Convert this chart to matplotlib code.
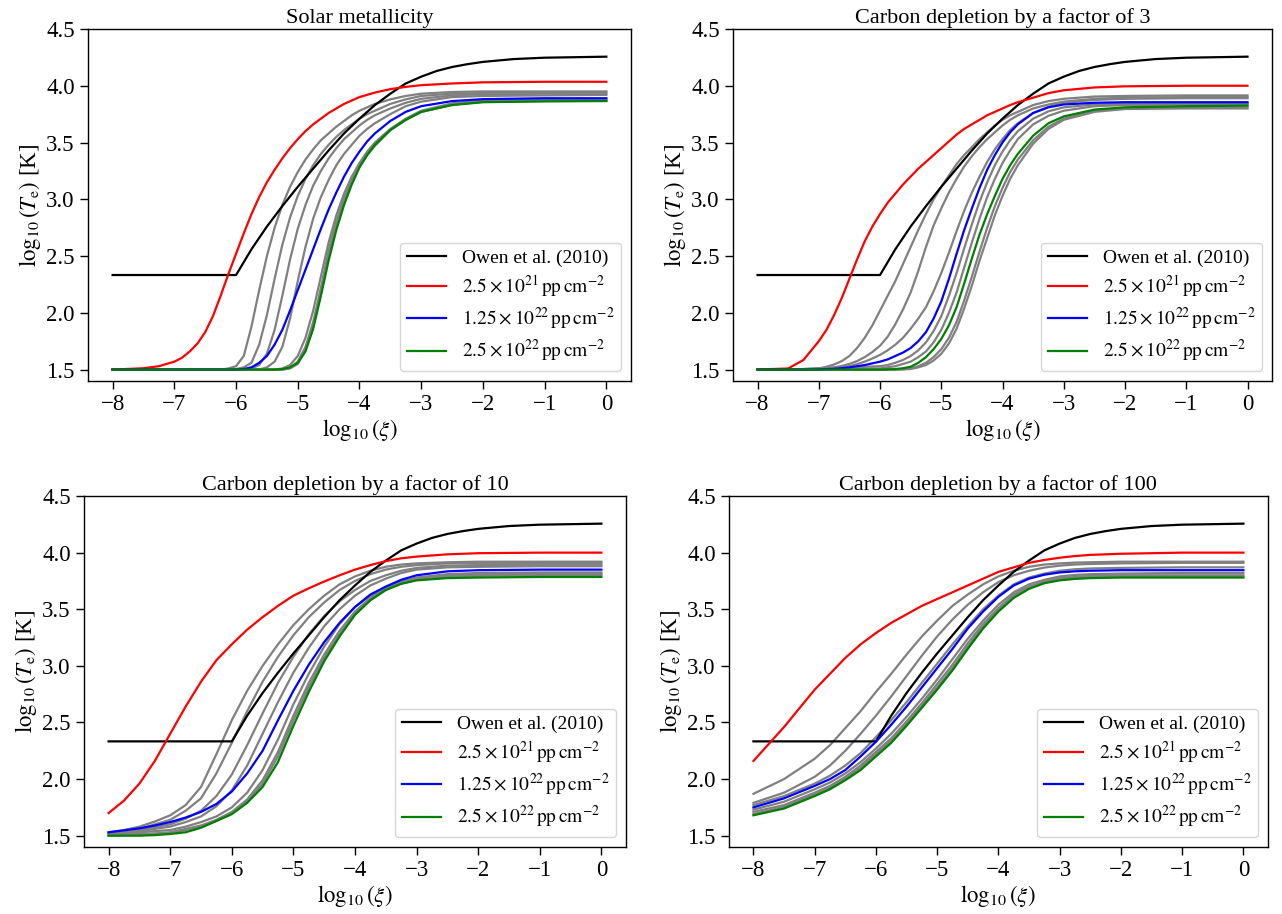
import numpy as np
import matplotlib
matplotlib.use('Agg')
import matplotlib.pyplot as plt

plt.rcParams['font.family'] = ['Liberation Serif', 'DejaVu Serif']
plt.rcParams['mathtext.fontset'] = 'stix'

# log10(xi) sampling used when reading the curves off the figure
xi_owen = [-8, -6, -5.75, -5.5, -5.25, -5, -4.75, -4.5, -4.25, -4, -3.75, -3.5, -3.25,
           -3, -2.75, -2.5, -2.25, -2, -1.5, -1, 0]
xi_fine = [-8, -7.5, -7.25, -7, -6.875, -6.75, -6.625, -6.5, -6.375, -6.25, -6.125, -6,
           -5.875, -5.75, -5.625, -5.5, -5.375, -5.25, -5.125, -5, -4.875, -4.75, -4.625,
           -4.5, -4.375, -4.25, -4.125, -4, -3.875, -3.75, -3.5, -3.25, -3, -2.5, -2, -1, 0]
xi_mid = [-8, -7.75, -7.5, -7.25, -7, -6.75, -6.5, -6.25, -6, -5.75, -5.5, -5.25, -5,
          -4.75, -4.5, -4.25, -4, -3.75, -3.5, -3.25, -3, -2.5, -2, -1, 0]
xi_coarse = [-8, -7.5, -7, -6.75, -6.5, -6.25, -6, -5.75, -5.5, -5.25, -5, -4.75, -4.5,
             -4.25, -4, -3.75, -3.5, -3.25, -3, -2.75, -2.5, -2, -1, 0]

# Owen et al. (2010) relation, identical in every panel
owen = [2.333, 2.333, 2.56, 2.76, 2.94, 3.11, 3.27, 3.43, 3.58, 3.71, 3.83, 3.93, 4.02,
        4.08, 4.13, 4.165, 4.19, 4.21, 4.235, 4.247, 4.256]

# --- Solar metallicity (on xi_fine)
solar_red = [1.50, 1.512, 1.53, 1.57, 1.605, 1.66, 1.73, 1.83, 1.97, 2.15, 2.34, 2.52,
             2.70, 2.87, 3.02, 3.15, 3.26, 3.36, 3.45, 3.53, 3.60, 3.66, 3.71, 3.76, 3.80,
             3.84, 3.87, 3.90, 3.92, 3.94, 3.97, 3.99, 4.005, 4.02, 4.03, 4.035, 4.035]
solar_blue = [1.50] * 12 + [1.505, 1.52, 1.56, 1.62, 1.72, 1.85, 2.02, 2.20, 2.38, 2.56,
                            2.74, 2.91, 3.06, 3.20, 3.32, 3.42, 3.51, 3.58, 3.69, 3.77,
                            3.82, 3.865, 3.882, 3.89, 3.89]
solar_green = [1.50] * 17 + [1.505, 1.52, 1.56, 1.66, 1.86, 2.15, 2.46, 2.73, 2.95, 3.13,
                             3.28, 3.39, 3.48, 3.61, 3.70, 3.77, 3.83, 3.855, 3.862, 3.865]
solar_grey = [
    [1.50] * 10 + [1.51, 1.53, 1.62, 1.88, 2.20, 2.50, 2.75, 2.95, 3.11, 3.24, 3.35, 3.44,
                   3.52, 3.58, 3.64, 3.69, 3.74, 3.78, 3.81, 3.84, 3.88, 3.91, 3.93, 3.945,
                   3.95, 3.95, 3.95],
    [1.50] * 11 + [1.505, 1.52, 1.56, 1.72, 1.98, 2.30, 2.60, 2.84, 3.03, 3.18, 3.30, 3.40,
                   3.48, 3.55, 3.61, 3.66, 3.71, 3.75, 3.78, 3.84, 3.88, 3.91, 3.93, 3.935,
                   3.94, 3.94],
    [1.50] * 13 + [1.51, 1.54, 1.64, 1.85, 2.15, 2.47, 2.74, 2.95, 3.12, 3.25, 3.36, 3.45,
                   3.53, 3.59, 3.65, 3.70, 3.74, 3.80, 3.85, 3.885, 3.915, 3.925, 3.93, 3.93],
    [1.50] * 15 + [1.52, 1.57, 1.70, 1.95, 2.28, 2.58, 2.83, 3.02, 3.17, 3.30, 3.40, 3.48,
                   3.56, 3.62, 3.67, 3.75, 3.82, 3.86, 3.90, 3.91, 3.915, 3.92],
    [1.50] * 17 + [1.51, 1.54, 1.62, 1.78, 2.02, 2.32, 2.62, 2.86, 3.05, 3.20, 3.32, 3.42,
                   3.50, 3.62, 3.71, 3.78, 3.845, 3.87, 3.878, 3.88],
    [1.50] * 18 + [1.515, 1.57, 1.70, 1.92, 2.22, 2.55, 2.81, 3.01, 3.17, 3.30, 3.40, 3.48,
                   3.61, 3.70, 3.77, 3.835, 3.862, 3.87, 3.872],
    [1.50] * 18 + [1.51, 1.55, 1.67, 1.88, 2.17, 2.50, 2.78, 2.99, 3.16, 3.29, 3.39, 3.47,
                   3.61, 3.70, 3.77, 3.832, 3.858, 3.866, 3.868],
]

# --- Carbon depleted by 3 (on xi_fine)
c3_red = [1.50, 1.51, 1.585, 1.75, 1.85, 1.98, 2.13, 2.30, 2.47, 2.63, 2.76, 2.87, 2.97,
          3.05, 3.13, 3.20, 3.27, 3.33, 3.39, 3.45, 3.51, 3.57, 3.62, 3.66, 3.70, 3.74,
          3.77, 3.80, 3.83, 3.855, 3.895, 3.935, 3.96, 3.985, 3.995, 4.0, 4.0]
c3_blue = [1.50, 1.50, 1.50, 1.502, 1.504, 1.507, 1.512, 1.52, 1.53, 1.54, 1.555, 1.57,
           1.59, 1.62, 1.65, 1.69, 1.75, 1.83, 1.95, 2.10, 2.30, 2.52, 2.73, 2.92, 3.10,
           3.26, 3.39, 3.50, 3.59, 3.66, 3.76, 3.81, 3.835, 3.85, 3.855, 3.855, 3.855]
c3_green = [1.50] * 12 + [1.502, 1.505, 1.512, 1.525, 1.56, 1.61, 1.68, 1.77, 1.89, 2.05,
                          2.26, 2.48, 2.69, 2.87, 3.03, 3.18, 3.30, 3.40, 3.56, 3.67, 3.73,
                          3.79, 3.81, 3.82, 3.825]
c3_grey = [
    [1.50, 1.50, 1.503, 1.51, 1.525, 1.545, 1.575, 1.62, 1.69, 1.78, 1.89, 2.02, 2.15,
     2.28, 2.43, 2.58, 2.73, 2.87, 3.00, 3.11, 3.21, 3.31, 3.39, 3.46, 3.53, 3.59, 3.65,
     3.70, 3.74, 3.77, 3.83, 3.865, 3.885, 3.905, 3.91, 3.915, 3.915],
    [1.50, 1.50, 1.505, 1.51, 1.513, 1.52, 1.532, 1.55, 1.575, 1.61, 1.655, 1.71, 1.79,
     1.90, 2.03, 2.18, 2.37, 2.58, 2.77, 2.92, 3.06, 3.18, 3.29, 3.38, 3.46, 3.53, 3.59,
     3.65, 3.70, 3.74, 3.80, 3.835, 3.86, 3.885, 3.895, 3.90, 3.90],
    [1.50, 1.50, 1.502, 1.505, 1.51, 1.515, 1.522, 1.53, 1.548, 1.57, 1.598, 1.63, 1.67,
     1.72, 1.78, 1.86, 1.95, 2.05, 2.19, 2.35, 2.53, 2.72, 2.90, 3.06, 3.20, 3.33, 3.44,
     3.53, 3.61, 3.67, 3.76, 3.815, 3.85, 3.875, 3.885, 3.89, 3.89],
    [1.50, 1.50, 1.505, 1.51, 1.512, 1.515, 1.518, 1.52, 1.522, 1.525, 1.527, 1.53, 1.54,
     1.56, 1.585, 1.62, 1.67, 1.74, 1.84, 1.97, 2.15, 2.35, 2.57, 2.78, 2.98, 3.15, 3.30,
     3.42, 3.52, 3.60, 3.71, 3.775, 3.81, 3.835, 3.84, 3.845, 3.845],
    [1.50, 1.50, 1.50, 1.50, 1.502, 1.505, 1.505, 1.505, 1.508, 1.51, 1.51, 1.51, 1.52,
     1.53, 1.55, 1.57, 1.61, 1.66, 1.74, 1.85, 2.00, 2.18, 2.40, 2.62, 2.83, 3.02, 3.18,
     3.32, 3.43, 3.53, 3.66, 3.735, 3.78, 3.82, 3.83, 3.835, 3.835],
    [1.50] * 14 + [1.503, 1.51, 1.53, 1.56, 1.61, 1.68, 1.78, 1.92, 2.11, 2.32, 2.54, 2.75,
                   2.94, 3.10, 3.24, 3.35, 3.52, 3.64, 3.71, 3.78, 3.80, 3.81, 3.81],
    [1.50] * 14 + [1.502, 1.505, 1.52, 1.54, 1.58, 1.64, 1.73, 1.86, 2.04, 2.24, 2.46, 2.66,
                   2.86, 3.03, 3.18, 3.30, 3.49, 3.62, 3.70, 3.77, 3.795, 3.80, 3.80],
]

# --- Carbon depleted by 10 (on xi_mid)
c10_red = [1.70, 1.81, 1.96, 2.16, 2.40, 2.64, 2.86, 3.05, 3.19, 3.32, 3.43, 3.53, 3.62,
           3.685, 3.745, 3.80, 3.85, 3.89, 3.925, 3.95, 3.965, 3.985, 3.995, 4.0, 4.0]
c10_blue = [1.53, 1.547, 1.565, 1.59, 1.62, 1.66, 1.71, 1.78, 1.89, 2.05, 2.25, 2.52, 2.78,
            3.01, 3.21, 3.38, 3.52, 3.63, 3.70, 3.76, 3.80, 3.835, 3.845, 3.85, 3.85]
c10_green = [1.50, 1.50, 1.50, 1.505, 1.515, 1.53, 1.57, 1.63, 1.69, 1.79, 1.93, 2.15,
             2.47, 2.77, 3.04, 3.26, 3.45, 3.58, 3.67, 3.725, 3.755, 3.775, 3.78, 3.785,
             3.785]
c10_grey = [
    [1.53, 1.55, 1.58, 1.625, 1.68, 1.77, 1.93, 2.22, 2.52, 2.78, 3.00, 3.19, 3.36, 3.50,
     3.62, 3.72, 3.79, 3.84, 3.875, 3.895, 3.905, 3.915, 3.92, 3.92, 3.92],
    [1.52, 1.54, 1.56, 1.60, 1.64, 1.72, 1.83, 2.05, 2.32, 2.60, 2.86, 3.08, 3.27, 3.43,
     3.56, 3.67, 3.75, 3.81, 3.85, 3.875, 3.89, 3.905, 3.91, 3.91, 3.91],
    [1.52, 1.535, 1.55, 1.575, 1.60, 1.65, 1.72, 1.85, 2.04, 2.30, 2.58, 2.85, 3.08, 3.28,
     3.44, 3.57, 3.67, 3.75, 3.80, 3.84, 3.865, 3.885, 3.89, 3.895, 3.895],
    [1.51, 1.525, 1.54, 1.56, 1.58, 1.62, 1.67, 1.76, 1.90, 2.12, 2.40, 2.68, 2.94, 3.16,
     3.35, 3.50, 3.62, 3.71, 3.77, 3.82, 3.85, 3.87, 3.875, 3.88, 3.88],
    [1.51, 1.52, 1.53, 1.54, 1.55, 1.58, 1.62, 1.67, 1.75, 1.88, 2.08, 2.35, 2.66, 2.93,
     3.17, 3.37, 3.52, 3.62, 3.69, 3.745, 3.78, 3.81, 3.82, 3.825, 3.825],
    [1.505, 1.51, 1.515, 1.52, 1.53, 1.56, 1.59, 1.64, 1.71, 1.82, 1.99, 2.24, 2.56, 2.85,
     3.10, 3.31, 3.48, 3.60, 3.68, 3.735, 3.77, 3.80, 3.81, 3.81, 3.81],
    [1.50, 1.505, 1.51, 1.515, 1.52, 1.55, 1.58, 1.63, 1.70, 1.80, 1.96, 2.20, 2.52, 2.81,
     3.07, 3.28, 3.46, 3.58, 3.67, 3.725, 3.76, 3.79, 3.795, 3.80, 3.80],
]

# --- Carbon depleted by 100 (on xi_coarse)
c100_red = [2.16, 2.46, 2.79, 2.93, 3.07, 3.19, 3.29, 3.38, 3.455, 3.53, 3.59, 3.65, 3.71,
            3.77, 3.83, 3.87, 3.91, 3.935, 3.955, 3.97, 3.98, 3.99, 4.0, 4.0]
c100_blue = [1.75, 1.83, 1.94, 2.00, 2.08, 2.20, 2.33, 2.48, 2.64, 2.81, 2.98, 3.15, 3.33,
             3.48, 3.61, 3.71, 3.77, 3.805, 3.825, 3.835, 3.84, 3.845, 3.845, 3.845]
c100_green = [1.68, 1.74, 1.85, 1.91, 1.99, 2.08, 2.20, 2.32, 2.47, 2.63, 2.79, 2.96, 3.15,
              3.33, 3.48, 3.60, 3.68, 3.73, 3.755, 3.768, 3.775, 3.78, 3.78, 3.78]
c100_grey = [
    [1.87, 2.00, 2.18, 2.30, 2.45, 2.60, 2.77, 2.93, 3.10, 3.26, 3.40, 3.53, 3.63, 3.72,
     3.79, 3.84, 3.875, 3.895, 3.905, 3.912, 3.915, 3.92, 3.92, 3.92],
    [1.79, 1.88, 2.02, 2.12, 2.25, 2.40, 2.56, 2.73, 2.91, 3.09, 3.26, 3.41, 3.54, 3.65,
     3.74, 3.80, 3.84, 3.868, 3.885, 3.895, 3.90, 3.905, 3.91, 3.91],
    [1.77, 1.85, 1.96, 2.03, 2.12, 2.23, 2.37, 2.52, 2.68, 2.85, 3.02, 3.19, 3.35, 3.50,
     3.62, 3.72, 3.78, 3.815, 3.84, 3.853, 3.86, 3.865, 3.87, 3.87],
    [1.73, 1.80, 1.91, 1.97, 2.05, 2.15, 2.27, 2.40, 2.55, 2.71, 2.88, 3.06, 3.24, 3.40,
     3.54, 3.65, 3.72, 3.76, 3.79, 3.803, 3.81, 3.815, 3.82, 3.82],
    [1.71, 1.77, 1.88, 1.94, 2.02, 2.12, 2.24, 2.36, 2.51, 2.67, 2.84, 3.01, 3.20, 3.37,
     3.51, 3.63, 3.70, 3.745, 3.775, 3.788, 3.795, 3.80, 3.80, 3.80],
    [1.69, 1.755, 1.865, 1.925, 2.005, 2.10, 2.22, 2.34, 2.49, 2.65, 2.81, 2.98, 3.17, 3.35,
     3.495, 3.615, 3.69, 3.735, 3.765, 3.778, 3.785, 3.79, 3.79, 3.79],
]

titles = ['Solar metallicity', 'Carbon depletion by a factor of 3',
          'Carbon depletion by a factor of 10', 'Carbon depletion by a factor of 100']
labels = ['Owen et al. (2010)',
          r'$2.5\times10^{21}\,\mathrm{pp\,cm^{-2}}$',
          r'$1.25\times10^{22}\,\mathrm{pp\,cm^{-2}}$',
          r'$2.5\times10^{22}\,\mathrm{pp\,cm^{-2}}$']

panels = [
    (xi_fine, solar_red, solar_blue, solar_green, solar_grey),
    (xi_fine, c3_red, c3_blue, c3_green, c3_grey),
    (xi_mid, c10_red, c10_blue, c10_green, c10_grey),
    (xi_coarse, c100_red, c100_blue, c100_green, c100_grey),
]

# axes boxes in figure fraction (left, bottom, width, height)
boxes = [
    [0.0686, 0.5832, 0.4236, 0.3851],
    [0.5718, 0.5832, 0.4204, 0.3851],
    [0.0655, 0.0733, 0.4228, 0.3840],
    [0.5686, 0.0733, 0.4204, 0.3840],
]

fig = plt.figure(figsize=(12.82, 9.14), dpi=100)
lw = 1.6

for k, (xi, red, blue, green, grey) in enumerate(panels):
    ax = fig.add_axes(boxes[k])
    for g in grey:
        ax.plot(xi, g, color='grey', lw=lw)
    ax.plot(xi_owen, owen, color='black', lw=lw, label=labels[0])
    ax.plot(xi, red, color='red', lw=lw, label=labels[1])
    ax.plot(xi, blue, color='blue', lw=lw, label=labels[2])
    ax.plot(xi, green, color='green', lw=lw, label=labels[3])

    ax.set_ylim(1.4, 4.5)
    ax.set_yticks([1.5, 2.0, 2.5, 3.0, 3.5, 4.0, 4.5])
    ax.set_xticks(range(-8, 1))
    ax.tick_params(labelsize=16.5, length=6, width=1.0, pad=3.5)
    for s in ax.spines.values():
        s.set_linewidth(1.0)
    ax.set_title(titles[k], fontsize=16, pad=4)
    ax.set_xlabel(r'$\log_{10}(\xi)$', fontsize=16.5, labelpad=1)
    ax.set_ylabel(r'$\log_{10}(T_{\rm e})$ [K]', fontsize=16.5, labelpad=2)
    ax.legend(loc='lower right', fontsize=14, labelspacing=0.33, borderpad=0.35)

fig.savefig('out.png', dpi=100)
